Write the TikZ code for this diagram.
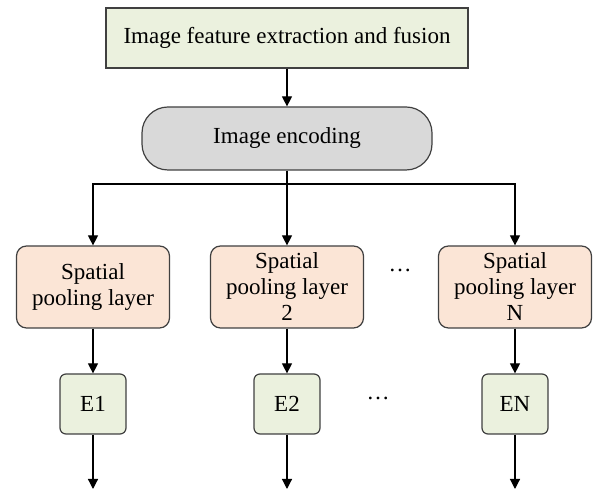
\documentclass[tikz,border=0pt]{standalone}
\usepackage{fontspec}
\setmainfont{Liberation Serif}
\usetikzlibrary{arrows.meta}

\definecolor{boxgreen}{HTML}{EBF1DE}
\definecolor{boxpeach}{HTML}{FBE5D6}
\definecolor{boxgray}{HTML}{D9D9D9}
\definecolor{edge}{HTML}{404040}

\tikzset{
    base/.style={draw=edge, line width=0.6pt, align=center, inner sep=0pt,
        font=\fontsize{11.5}{13}\selectfont},
    topbox/.style={base, fill=boxgreen, minimum width=181pt, minimum height=30pt},
    encbox/.style={base, fill=boxgray, rounded corners=13pt, minimum width=145pt, minimum height=31.5pt},
    poolbox/.style={base, fill=boxpeach, rounded corners=5pt, minimum width=76.5pt, minimum height=41pt},
    ebox/.style={base, fill=boxgreen, rounded corners=3pt, minimum width=33pt, minimum height=30pt},
    flow/.style={line width=0.6pt, -{Triangle[length=5pt, width=5pt]}},
}

\begin{document}
\begin{tikzpicture}[x=0.5pt, y=-0.5pt]
    \useasboundingbox (0,0) rectangle (595,490);

    % top of the chain
    \node[topbox] (fuse) at (287, 38) {Image feature extraction and fusion};
    \node[encbox] (enc) at (287, 138.5) {Image encoding};

    % pooling layers
    \node[poolbox] (p1) at (93, 287) {Spatial\\pooling layer};
    \node[poolbox] (p2) at (287, 287) {Spatial\\pooling layer\\2};
    \node[poolbox] (pN) at (515, 287) {Spatial\\pooling layer\\N};
    \node[font=\fontsize{11.5}{13}\selectfont] (dots1) at (400, 270) {\dots};

    % encodings
    \node[ebox] (e1) at (93, 404) {E1};
    \node[ebox] (e2) at (287, 404) {E2};
    \node[ebox] (eN) at (515, 404) {EN};
    \node[font=\fontsize{11.5}{13}\selectfont] (dots2) at (378, 398) {\dots};

    \coordinate (split) at (287, 184);
    \coordinate (o1) at (93, 489);
    \coordinate (o2) at (287, 489);
    \coordinate (oN) at (515, 489);

    \draw[flow] (fuse) -- (enc);
    \draw[line width=0.6pt] (enc) -- (split);
    \draw[flow] (split) -| (p1);
    \draw[flow] (split) -- (p2);
    \draw[flow] (split) -| (pN);

    \draw[flow] (p1) -- (e1);
    \draw[flow] (p2) -- (e2);
    \draw[flow] (pN) -- (eN);

    \draw[flow] (e1) -- (o1);
    \draw[flow] (e2) -- (o2);
    \draw[flow] (eN) -- (oN);
\end{tikzpicture}
\end{document}
